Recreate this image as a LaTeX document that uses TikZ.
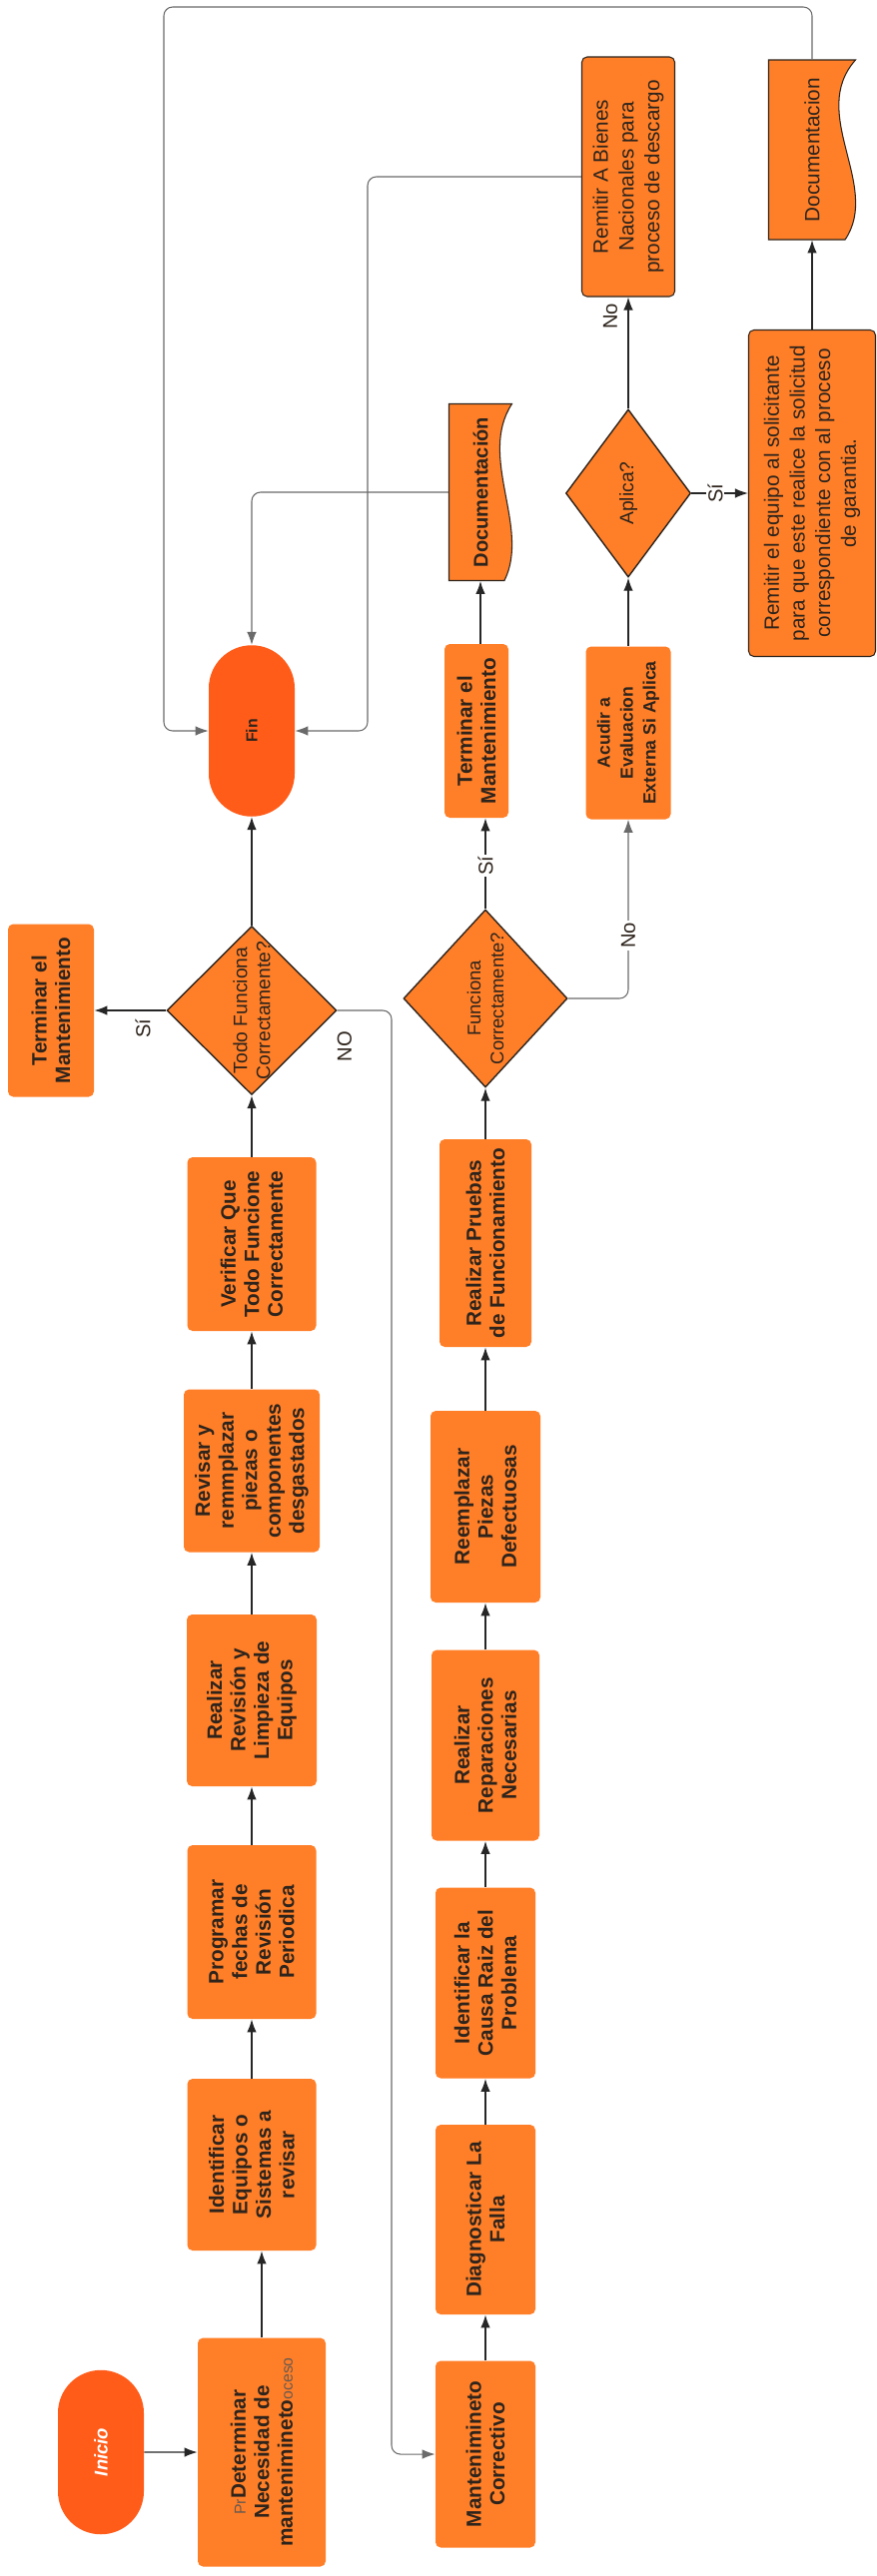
\documentclass[tikz,border=0pt]{standalone}
\usepackage{fontspec}
\setmainfont{Liberation Sans}
\usetikzlibrary{arrows.meta, positioning, shapes.geometric, shapes.misc}

\definecolor{boxorange}{HTML}{FF7F28}
\definecolor{endorange}{HTML}{FF5C1A}
\definecolor{inkdark}{HTML}{2E241C}
\definecolor{inkgray}{HTML}{6B5A4E}
\definecolor{wiregray}{HTML}{6A6A6A}

% page size of a rotated node: width across, height along (px)
\tikzset{
  wh/.style n args={2}{minimum height=#1*0.02cm, minimum width=#2*0.02cm}
}

% wavy document outline: centre x, centre y, width, height (page px)
\newcommand{\docshape}[4]{%
  \filldraw[docline] ({#1-#3/2},{#2-#4/2}) -- ({#1+#3/2},{#2-#4/2})
    .. controls ({#1+#3/2-0.55*#3},{#2-#4/2+0.3*#4}) and ({#1+#3/2+0.3*#3},{#2+#4/2-0.3*#4}) .. ({#1+#3/2-0.12*#3},{#2+#4/2})
    -- ({#1-#3/2},{#2+#4/2}) -- cycle;}

\begin{document}
\begin{tikzpicture}[
    x=0.02cm, y=-0.02cm,
    box/.style={
      rectangle,
      rounded corners=3pt,
      rotate=90,
      fill=boxorange,
      text=inkdark,
      align=center,
      inner sep=2pt,
      font=\fontsize{11.8}{13.4}\selectfont\bfseries
    },
    outbox/.style={
      box,
      draw=inkdark,
      line width=0.6pt,
      font=\fontsize{11.8}{14.6}\selectfont
    },
    term/.style={
      rounded rectangle,
      rotate=90,
      fill=endorange,
      text=inkdark,
      inner sep=1pt,
      font=\fontsize{9}{10}\selectfont\bfseries
    },
    dec/.style={
      diamond,
      rotate=90,
      fill=boxorange,
      draw=inkdark,
      line width=0.8pt,
      inner sep=0pt
    },
    dectext/.style={
      rotate=90,
      align=center,
      text=inkdark,
      inner sep=0pt,
      font=\fontsize{11}{13}\selectfont
    },
    docline/.style={
      fill=boxorange,
      draw=inkdark,
      line width=0.6pt
    },
    docbox/.style={
      rectangle,
      rotate=90,
      align=center,
      text=inkdark,
      inner sep=1pt
    },
    lbl/.style={
      rotate=90,
      text=inkdark,
      inner sep=1pt,
      font=\fontsize{11.5}{12}\selectfont
    },
    arrow/.style={
      -{Latex[length=2.6mm, width=1.9mm]},
      line width=0.8pt,
      draw=black!85
    },
    wire/.style={
      arrow,
      draw=wiregray,
      line width=0.6pt,
      rounded corners=5pt
    }
  ]
    \path[use as bounding box, fill=white] (0,0) rectangle (878,2580);

    % Preventive column
    \node[term, wh={86}{168}, text=white, font=\fontsize{10.5}{12}\selectfont\bfseries\itshape] (inicio) at (101,2456) {Inicio};
    \node[box, wh={128}{229}] (det) at (262,2456)
      {{\mdseries\fontsize{9}{10}\selectfont\color{inkgray}Pr}Determinar\\Necesidad de\\mantenimineto{\mdseries\fontsize{9}{10}\selectfont\color{inkgray}oceso}};
    \node[box, wh={129}{172}] (ident) at (252,2168) {Identificar\\Equipos o\\Sistemas a\\revisar};
    \node[box, wh={129}{174}] (prog) at (252,1935) {Programar\\fechas de\\Revisión\\Periodica};
    \node[box, wh={130}{172}] (rrev) at (252,1703) {Realizar\\Revisión y\\Limpieza de\\Equipos};
    \node[box, wh={136}{163}] (revis) at (252,1473) {Revisar y\\remmplazar\\piezas o\\componentes\\desgastados};
    \node[box, wh={129}{174}] (verif) at (252,1246) {Verificar Que\\Todo Funcione\\Correctamente};
    \node[dec, wh={170}{169}] (todo) at (252,1012) {};
    \node[dectext] (todoT) at (todo) {Todo Funciona\\Correctamente?};
    \node[box, wh={86}{173}] (termA) at (51,1012) {Terminar el\\Mantenimiento};
    \node[term, wh={86}{175}] (fin) at (252,732) {Fin};

    % Corrective column
    \node[box, wh={100}{187}] (mcorr) at (486,2458) {Mantenimineto\\Correctivo};
    \node[box, wh={100}{190}] (diag) at (486,2223) {Diagnosticar La\\Falla};
    \node[box, wh={100}{191}] (causa) at (486,1986) {Identificar la\\Causa Raiz del\\Problema};
    \node[box, wh={108}{191}] (repar) at (486,1748) {Realizar\\Reparaciones\\Necesarias};
    \node[box, wh={110}{192}] (reemp) at (486,1509) {Reemplazar\\Piezas\\Defectuosas};
    \node[box, wh={92}{208}] (prueb) at (486,1245) {Realizar Pruebas\\de Funcionamiento};
    \node[dec, wh={164}{178}] (func) at (486,1000) {};
    \node[dectext, font=\fontsize{10.5}{13}\selectfont] (funcT) at (func) {Funciona\\Correctamente?};
    \node[box, wh={64}{174}] (termB) at (477,732) {Terminar el\\Mantenimiento};
    \docshape{481}{493}{63}{177}
    \node[docbox, wh={63}{177}, font=\fontsize{11.4}{13.4}\selectfont\bfseries] (docB) at (481,493) {Documentación};

    % External evaluation
    \node[box, wh={85}{173}, font=\fontsize{10}{13}\selectfont\bfseries] (acud) at (629,734) {Acudir a\\Evaluacion\\Externa Si Aplica};
    \node[dec, wh={125}{168}] (aplica) at (629,494) {};
    \node[dectext] (aplicaT) at (aplica) {Aplica?};
    \node[outbox, wh={93}{240}] (bienes) at (629,177) {Remitir A Bienes\\Nacionales para\\proceso de descargo};
    \node[outbox, wh={127}{327}] (remeq) at (813,494)
      {Remitir el equipo al solicitante\\para que este realice la solicitud\\correspondiente con al proceso\\de garantia.};
    \docshape{813}{150}{87}{180}
    \node[docbox, wh={87}{180}, font=\fontsize{11.8}{13.4}\selectfont] (docC) at (813,150) {Documentacion};

    % Arrows
    \draw[arrow] (inicio) -- (det);
    \draw[arrow] (det) -- (det |- ident.west);
    \draw[arrow] (ident) -- (prog);
    \draw[arrow] (prog) -- (rrev);
    \draw[arrow] (rrev) -- (revis);
    \draw[arrow] (revis) -- (verif);
    \draw[arrow] (verif) -- (todo);
    \draw[arrow] (todo) -- (fin);
    \draw[arrow] (todo) -- (termA);
    \coordinate (noTurn) at (392,1012);
    \draw[wire] (todo.south) -- (noTurn) |- (mcorr.north);

    \draw[arrow] (mcorr) -- (diag);
    \draw[arrow] (diag) -- (causa);
    \draw[arrow] (causa) -- (repar);
    \draw[arrow] (repar) -- (reemp);
    \draw[arrow] (reemp) -- (prueb);
    \draw[arrow] (prueb) -- (func);
    \draw[arrow] (func) -- (func |- termB.west);
    \draw[wire] (func.south) -| (acud.west);
    \draw[arrow] (docB |- termB.east) -- (docB);
    \draw[wire] (docB.north) -| (fin.east);

    \draw[arrow] (acud) -- (aplica);
    \draw[arrow] (aplica) -- (bienes);
    \draw[arrow] (aplica.south) -- (remeq.north);
    \draw[arrow] (remeq) -- (docC);
    \coordinate (loopA) at (164,7);
    \draw[wire] (docC.east) |- (loopA) |- (fin.north);
    \coordinate (loopB) at (368,177);
    \draw[wire] (bienes.north) -- (loopB) |- (fin.south);

    % Branch labels
    \node[lbl] (siA) at (143,1030) {Sí};
    \node[lbl] (noA) at (345,1048) {NO};
    \node[lbl, fill=white] (siB) at (486,867) {Sí};
    \node[lbl, fill=white] (noB) at (629,937) {No};
    \node[lbl] (noC) at (611,317) {No};
    \node[lbl, fill=white] (siC) at (716,494) {Sí};

  \end{tikzpicture}
\end{document}
